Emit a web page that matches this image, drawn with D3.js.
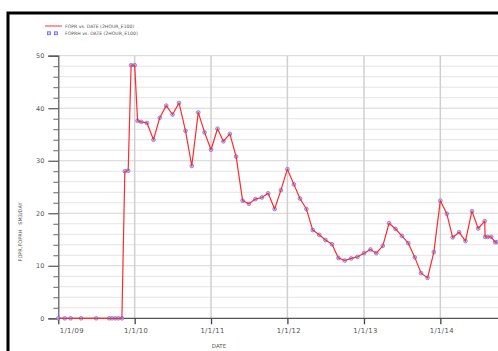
<!DOCTYPE html>
<html>
<head>
<meta charset="utf-8">
<script src="https://cdn.jsdelivr.net/npm/d3@7"></script>
<style>
  html, body { margin: 0; padding: 0; background: #fff; }
  svg { display: block; }
  text { font-family: "DejaVu Sans", sans-serif; fill: #555; }
</style>
</head>
<body>
<svg id="chart" width="498" height="351"></svg>
<script>
// ---- data ----
const dates = [
  "2009-01-01","2009-02-01","2009-03-01","2009-04-20","2009-07-01",
  "2009-09-01","2009-09-15","2009-10-01","2009-10-15","2009-11-01",
  "2009-11-15","2009-12-01","2009-12-15","2010-01-01","2010-01-15","2010-02-01",
  "2010-03-01","2010-04-01","2010-05-01","2010-06-01","2010-07-01","2010-08-01",
  "2010-09-01","2010-10-01","2010-11-01","2010-12-01",
  "2011-01-01","2011-02-01","2011-03-01","2011-04-01","2011-05-01","2011-06-01",
  "2011-07-01","2011-08-01","2011-09-01","2011-10-01","2011-11-01","2011-12-01",
  "2012-01-01","2012-02-01","2012-03-01","2012-04-01","2012-05-01","2012-06-01",
  "2012-07-01","2012-08-01","2012-09-01","2012-10-01","2012-11-01","2012-12-01",
  "2013-01-01","2013-02-01","2013-03-01","2013-04-01","2013-05-01","2013-06-01",
  "2013-07-01","2013-08-01","2013-09-01","2013-10-01","2013-11-01","2013-12-01",
  "2014-01-01","2014-02-01","2014-03-01","2014-04-01","2014-05-01","2014-06-01",
  "2014-07-01","2014-08-01","2014-08-03","2014-08-15","2014-09-01","2014-09-20","2014-10-01"
];
const fopr = [
  0,0,0,0,0,
  0,0,0,0,0,
  28.0,28.1,48.2,48.2,37.6,37.4,
  37.2,34.0,38.2,40.5,38.8,41.0,
  35.7,29.0,39.2,35.4,
  32.1,36.1,33.7,35.1,30.8,22.4,
  21.8,22.7,23.0,23.8,20.8,24.4,
  28.4,25.5,22.8,20.8,16.8,15.9,
  14.9,14.1,11.5,11.0,11.4,11.7,
  12.4,13.1,12.4,13.8,18.1,17.0,
  15.7,14.3,11.6,8.6,7.7,12.6,
  22.4,19.9,15.4,16.4,14.7,20.4,
  17.1,18.5,15.5,15.5,15.5,14.5,14.5
];
const foprh = fopr.slice();
const yTicks = [0,10,20,30,40,50];
const xTickLabels = ["1/1/09","1/1/10","1/1/11","1/1/12","1/1/13","1/1/14"];
const legendLabels = ["FOPR vs. DATE (2HOUR_E100)","FOPRH vs. DATE (2HOUR_E100)"];
const xTitle = "DATE";
const yTitle = "FOPR,FOPRH   SM3/DAY";

// ---- chart ----
const svg = d3.select("#chart");
const parse = d3.timeParse("%Y-%m-%d");
const data = dates.map((d,i) => ({date: parse(d), v: fopr[i], h: foprh[i]}));
const tickDates = xTickLabels.map(s => d3.timeParse("%m/%d/%y")(s));

const x = d3.scaleTime()
  .domain([parse("2009-01-01"), parse("2015-01-01")])
  .range([58.3, 58.3 + 6 * 76.4]);
const y = d3.scaleLinear().domain([0, 50]).range([318.3, 55.7]);
const xRight = 498;

// horizontal grid (every 2)
const minor = d3.range(2, 51, 2);
svg.append("g").selectAll("line").data(minor).join("line")
  .attr("x1", x.range()[0]).attr("x2", xRight)
  .attr("y1", d => y(d)).attr("y2", d => y(d))
  .attr("stroke", d => d % 10 === 0 ? "#d4d4d4" : "#e4e4e4")
  .attr("stroke-width", 1);

// vertical grid at years
svg.append("g").selectAll("line").data(tickDates.slice(1)).join("line")
  .attr("x1", d => x(d)).attr("x2", d => x(d))
  .attr("y1", y(50)).attr("y2", y(0))
  .attr("stroke", "#d0d0d0").attr("stroke-width", 1.5);

// y axis
const yAxis = d3.axisLeft(y).tickValues(yTicks).tickSize(10).tickPadding(4)
  .tickFormat(d3.format("d"));
const gy = svg.append("g").attr("transform", `translate(${x.range()[0]},0)`).call(yAxis);
gy.select(".domain").attr("stroke", "#555").attr("stroke-width", 1.2);
gy.selectAll(".tick line").attr("stroke", "#555").attr("stroke-width", 1.2);
gy.selectAll(".tick text").attr("font-size", "6.5px").attr("fill", "#555")
  .style("font-family", "DejaVu Sans, sans-serif");
// y minor ticks
const yMinor = d3.axisLeft(y).tickValues(minor.filter(d => d % 10 !== 0)).tickSize(5).tickFormat("");
const gym = svg.append("g").attr("transform", `translate(${x.range()[0]},0)`).call(yMinor);
gym.select(".domain").remove();
gym.selectAll(".tick line").attr("stroke", "#666");

// x axis
const xAxis = d3.axisBottom(x).tickValues(tickDates).tickSize(6).tickPadding(4)
  .tickFormat((d,i) => xTickLabels[i]);
const gx = svg.append("g").attr("transform", `translate(0,${y(0)})`).call(xAxis);
gx.select(".domain").attr("d", `M${x.range()[0]},0H${xRight}`).attr("stroke", "#555").attr("stroke-width", 1.2);
gx.selectAll(".tick line").attr("stroke", "#444").attr("stroke-width", 1.3);
gx.selectAll(".tick text").attr("font-size", "6.8px").attr("fill", "#555")
  .style("letter-spacing", "0.4px")
  .style("font-family", "DejaVu Sans, sans-serif")
  .attr("dx", (d,i) => i === 0 ? 13 : 1);

// markers (FOPRH)
svg.append("g").selectAll("circle").data(data).join("circle")
  .attr("cx", d => x(d.date)).attr("cy", d => y(d.h)).attr("r", 1.9)
  .attr("fill", "#b8b8ff").attr("fill-opacity", 0.8)
  .attr("stroke", "#5555ee").attr("stroke-width", 0.8).attr("stroke-opacity", 0.7);

// line (FOPR)
const line = d3.line().x(d => x(d.date)).y(d => y(d.v));
svg.append("path").datum(data).attr("d", line)
  .attr("fill", "none").attr("stroke", "#ff2a2a").attr("stroke-width", 1.2)
  .attr("stroke-linejoin", "round");

// axis titles
svg.append("text").attr("x", 219).attr("y", 347.5).attr("text-anchor", "middle")
  .attr("font-size", "5.5px").text(xTitle);
svg.append("text").attr("transform", "translate(22,232) rotate(-90)")
  .attr("text-anchor", "middle").attr("font-size", "5px").style("white-space", "pre")
  .attr("xml:space", "preserve").text(yTitle);

// legend
const lg = svg.append("g");
lg.append("line").attr("x1", 45).attr("x2", 62).attr("y1", 26).attr("y2", 26)
  .attr("stroke", "#ff5555").attr("stroke-width", 1.2);
lg.append("text").attr("x", 65).attr("y", 27.8).attr("font-size", "4.6px").text(legendLabels[0]);
[49, 56].forEach(cx => {
  lg.append("rect").attr("x", cx - 1.5).attr("y", 31.8).attr("width", 3).attr("height", 3)
    .attr("fill", "#ccccff").attr("stroke", "#5555ee").attr("stroke-width", 0.7);
});
lg.append("text").attr("x", 65).attr("y", 35).attr("font-size", "4.6px").text(legendLabels[1]);

// frame (thick top and left border)
svg.append("path").attr("d", "M8,351V13H498").attr("fill", "none")
  .attr("stroke", "#000").attr("stroke-width", 3);
</script>
</body>
</html>
